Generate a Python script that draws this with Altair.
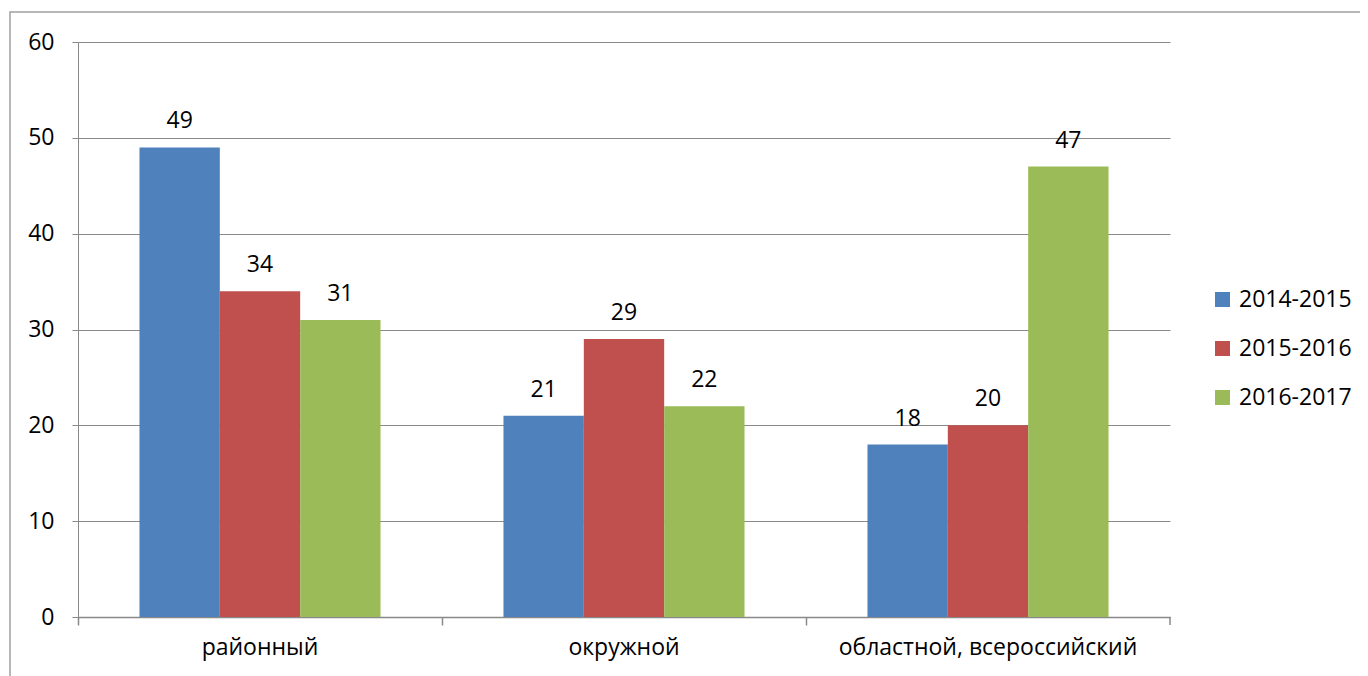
import altair as alt
import pandas as pd

categories = ["районный", "окружной", "областной, всероссийский"]
series = ["2014-2015", "2015-2016", "2016-2017"]
values_2014 = [49, 21, 18]
values_2015 = [34, 29, 20]
values_2016 = [31, 22, 47]
colors = ["#4f81bd", "#c0504d", "#9bbb59"]

rows = []
for s, vals in zip(series, [values_2014, values_2015, values_2016]):
    for c, v in zip(categories, vals):
        rows.append({"cat": c, "series": s, "value": v})
df = pd.DataFrame(rows)

FONT = "Open Sans"
FS = 23
GRID = "#898989"
W, H = 1092, 575

x = alt.X("cat:N", sort=categories, title=None,
          scale=alt.Scale(paddingInner=0, paddingOuter=0),
          axis=alt.Axis(labelAngle=0, labelFontSize=FS, labelFont=FONT, labelColor="#000000",
                        labelPadding=11, labelLimit=0, tickSize=8, tickColor=GRID, domainColor=GRID,
                        bandPosition=0, grid=False, tickWidth=1.5, domainWidth=1.5))
y = alt.Y("value:Q", title=None,
          scale=alt.Scale(domain=[0, 60], nice=False),
          axis=alt.Axis(values=[0, 10, 20, 30, 40, 50, 60], labelFontSize=FS, labelFont=FONT,
                        labelColor="#000000", labelPadding=18, tickSize=6, tickColor=GRID,
                        domainColor=GRID, gridColor=GRID, grid=True, gridWidth=1.2))
xoff = alt.XOffset("series:N", sort=series,
                   scale=alt.Scale(paddingInner=0, paddingOuter=0.765))

bars = alt.Chart(df).mark_bar().encode(
    x=x, y=y,
    xOffset=xoff,
    color=alt.Color("series:N", sort=series,
                    scale=alt.Scale(domain=series, range=colors),
                    legend=alt.Legend(title=None, orient="none", legendX=1133, legendY=246,
                                      symbolType="square", symbolSize=225, symbolStrokeWidth=0,
                                      labelFontSize=FS, labelFont=FONT, labelColor="#000000",
                                      rowPadding=25, labelOffset=5)),
)

labels = alt.Chart(df).mark_text(dy=-19, baseline="alphabetic", fontSize=FS, font=FONT,
                                 color="#000000").encode(
    x=alt.X("cat:N", sort=categories),
    y="value:Q",
    xOffset=xoff,
    text="value:Q",
)

one = pd.DataFrame({"a": [0]})
end_tick = alt.Chart(one).mark_rule(color=GRID, strokeWidth=1.5).encode(
    x=alt.value(W), y=alt.value(H), y2=alt.value(H + 8))
frame = alt.Chart(one).mark_rect(fill=None, stroke="#a0a0a0", strokeWidth=1.5, clip=False).encode(
    x=alt.value(-68), x2=alt.value(1300), y=alt.value(-30), y2=alt.value(650))

chart = alt.layer(frame, bars, labels, end_tick).properties(
    width=W, height=H,
    autosize=alt.AutoSizeParams(type="none"),
    padding={"left": 70, "top": 34, "right": 190, "bottom": 59},
).configure_view(stroke=None)

chart.save("out.html", embed_options={"renderer": "svg", "actions": False})
